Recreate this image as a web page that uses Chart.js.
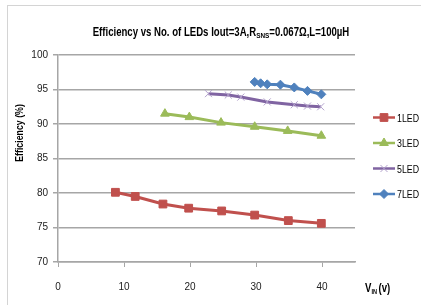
<!DOCTYPE html>
<html>
<head>
<meta charset="utf-8">
<script src="https://cdn.jsdelivr.net/npm/chart.js@4/dist/chart.umd.min.js"></script>
<style>
  html, body { margin: 0; padding: 0; background: #fff; }
  #wrap { width: 421px; height: 305px; position: relative; }
</style>
</head>
<body>
<div id="wrap"><canvas id="chart" width="421" height="305"></canvas></div>
<script>
// values
const xTicks = [0, 10, 20, 30, 40];
const yTicks = [70, 75, 80, 85, 90, 95, 100];
const seriesNames = ["1LED", "3LED", "5LED", "7LED"];

const vin1 = [8.7, 11.7, 15.9, 19.8, 24.8, 29.8, 34.9, 39.9];
const eff1 = [80.1, 79.5, 78.4, 77.8, 77.4, 76.8, 76.0, 75.6];
const vin3 = [16.2, 19.9, 24.7, 29.8, 34.8, 39.9];
const eff3 = [91.5, 91.0, 90.2, 89.6, 89.0, 88.3];
const vin5 = [22.8, 25.8, 27.7, 31.7, 35.8, 37.8, 39.8];
const eff5 = [94.4, 94.2, 93.9, 93.2, 92.8, 92.6, 92.5];
const vin7 = [29.8, 30.7, 31.7, 33.7, 35.8, 37.8, 39.9];
const eff7 = [96.1, 95.9, 95.75, 95.7, 95.3, 94.8, 94.3];

const FONT = "'Liberation Sans Narrow', 'Liberation Sans', sans-serif";
const SQUEEZE = 0.8; // reference uses a narrow font

function pts(xs, ys) {
    return xs.map((x, i) => ({ x: x, y: ys[i] }));
}

function makeSet(label, xs, ys, color, style, radius, markColor, markWidth) {
    return {
        label: label,
        data: pts(xs, ys),
        showLine: true,
        borderColor: color,
        borderWidth: 3,
        pointStyle: style,
        pointRadius: radius,
        pointHoverRadius: radius,
        pointBackgroundColor: markColor || color,
        pointBorderColor: markColor || color,
        pointBorderWidth: markWidth || 1
    };
}

// text run drawn left-aligned and squeezed; returns new x
function run(c, text, font, x, y) {
    c.font = font;
    const w = c.measureText(text).width * SQUEEZE;
    c.save();
    c.translate(x, y);
    c.scale(SQUEEZE, 1);
    c.textAlign = 'left';
    c.fillText(text, 0, 0);
    c.restore();
    return x + w;
}

function runWidth(c, text, font) {
    c.font = font;
    return c.measureText(text).width * SQUEEZE;
}

// draws title, axis titles with subscripts, legend and outer frame
const decor = {
    id: 'decor',
    beforeDraw(chart) {
        const c = chart.ctx;
        c.save();
        c.strokeStyle = '#d4d4d4';
        c.lineWidth = 1;
        c.strokeRect(7.5, 5.5, 600, 600);
        c.restore();
    },
    afterDraw(chart) {
        const c = chart.ctx;
        c.save();
        c.fillStyle = '#000';
        c.textBaseline = 'middle';

        // title with R_SNS subscript
        const big = "bold 12px " + FONT, small = "bold 8px " + FONT;
        const parts = [["Efficiency vs No. of LEDs Iout=3A,R", big, 0], ["SNS", small, 3], ["=0.067\u03A9,L=100\u00B5H", big, 0]];
        let total = 0;
        parts.forEach(p => { total += runWidth(c, p[0], p[1]); });
        let x = 221 - total / 2;
        parts.forEach(p => { x = run(c, p[0], p[1], x, 33 + p[2]); });

        // y axis title
        c.save();
        c.translate(20, 133);
        c.rotate(-Math.PI / 2);
        const yt = "bold 11px " + FONT;
        run(c, "Efficiency (%)", yt, -runWidth(c, "Efficiency (%)", yt) / 2, 0);
        c.restore();

        // x axis title V_IN (v)
        x = 365;
        x = run(c, "V", "bold 12px " + FONT, x, 289);
        x = run(c, "IN", "bold 7px " + FONT, x, 292) + 1.5;
        run(c, "(v)", "bold 12px " + FONT, x, 289);

        // legend
        chart.data.datasets.forEach((ds, i) => {
            const y = 117.5 + i * 25.5;
            c.strokeStyle = ds.borderColor;
            c.lineWidth = 2.5;
            c.beginPath();
            c.moveTo(373, y);
            c.lineTo(395, y);
            c.stroke();
            c.fillStyle = ds.pointBackgroundColor;
            c.strokeStyle = ds.pointBorderColor;
            c.lineWidth = ds.pointBorderWidth;
            if (Chart.helpers && Chart.helpers.drawPoint) {
                Chart.helpers.drawPoint(c, { pointStyle: ds.pointStyle, radius: ds.pointRadius, rotation: 0, borderWidth: ds.pointBorderWidth }, 384, y);
            }
            c.fillStyle = '#000';
            run(c, ds.label, "11px " + FONT, 397, y + 1);
        });
        c.restore();
    }
};

new Chart(document.getElementById('chart'), {
    type: 'scatter',
    data: {
        datasets: [
            makeSet(seriesNames[0], vin1, eff1, '#C0504D', 'rect', 5.5),
            makeSet(seriesNames[1], vin3, eff3, '#9BBB59', 'triangle', 5),
            makeSet(seriesNames[2], vin5, eff5, '#8064A2', 'crossRot', 5, '#B3A2CC', 1),
            makeSet(seriesNames[3], vin7, eff7, '#4F81BD', 'rectRot', 4.5)
        ]
    },
    options: {
        responsive: false,
        animation: false,
        layout: { padding: { left: 0, top: 55, right: 66, bottom: 0 } },
        plugins: {
            legend: { display: false },
            title: { display: false },
            tooltip: { enabled: false }
        },
        scales: {
            x: {
                type: 'linear',
                min: 0,
                max: 45,
                afterFit: s => { s.height = 43; },
                afterBuildTicks: s => { s.ticks = xTicks.map(v => ({ value: v })); },
                grid: { drawOnChartArea: false, drawTicks: true, tickLength: 5, color: '#a6a6a6', lineWidth: 1 },
                border: { color: '#a6a6a6', width: 1.5 },
                ticks: { padding: 14, color: '#222', font: { family: FONT, size: 10 } }
            },
            y: {
                type: 'linear',
                min: 70,
                max: 100,
                afterFit: s => { s.width = 58; },
                afterBuildTicks: s => { s.ticks = yTicks.map(v => ({ value: v })); },
                grid: { drawTicks: true, tickLength: 5, color: '#a6a6a6', lineWidth: 1.5 },
                border: { color: '#a6a6a6', width: 1.5 },
                ticks: { padding: 5, color: '#222', font: { family: FONT, size: 10 } }
            }
        }
    },
    plugins: [decor]
});
</script>
</body>
</html>
